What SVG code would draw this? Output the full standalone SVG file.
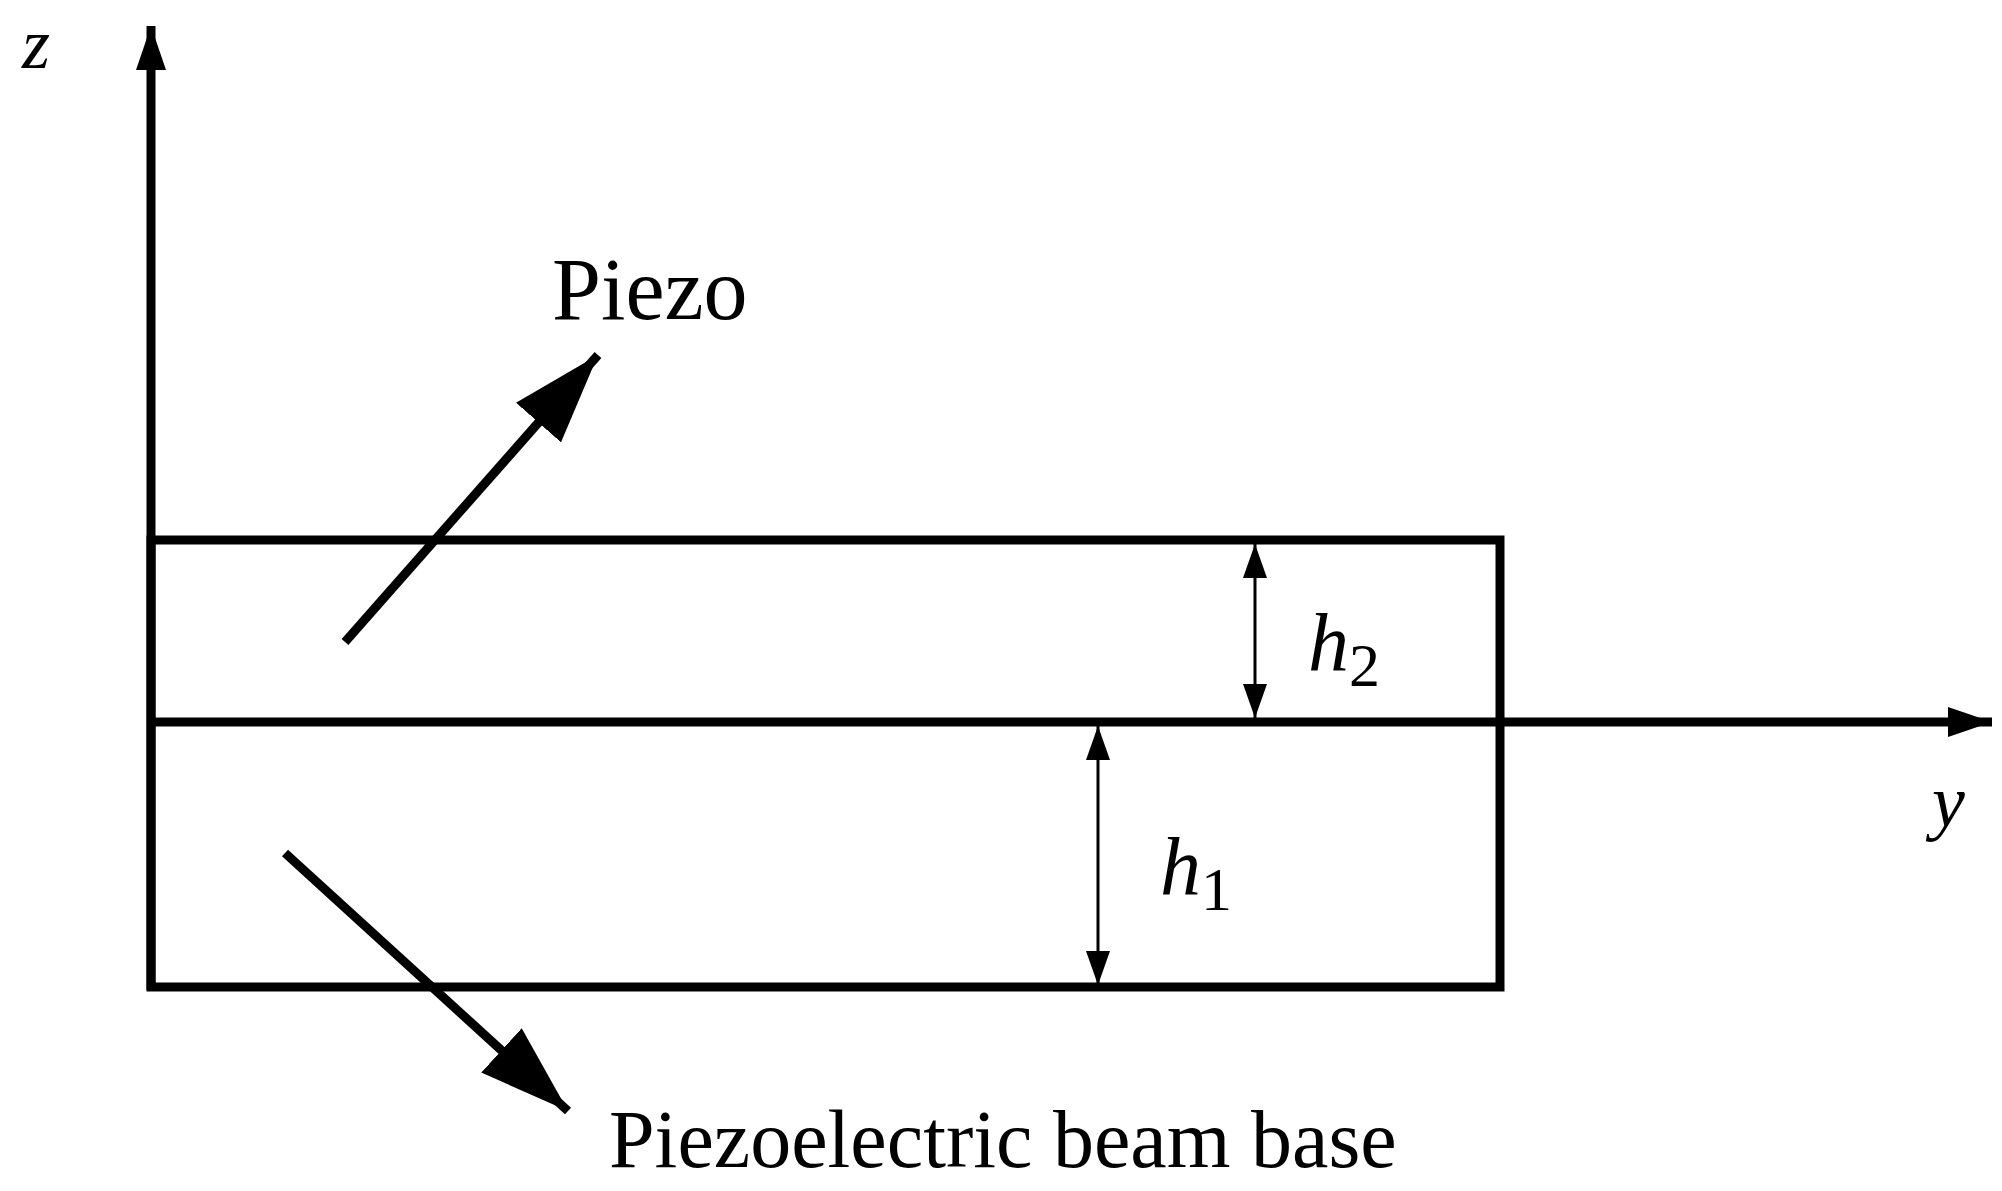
<svg xmlns="http://www.w3.org/2000/svg" width="2002" height="1191" viewBox="0 0 2002 1191">
<style>
.l{stroke:#000;stroke-width:9;fill:none}
.d{stroke:#000;stroke-width:3;fill:none}
text{font-family:"Liberation Serif",serif;fill:#000}
.i{font-style:italic}
</style>
<defs>
<marker id="big" markerUnits="userSpaceOnUse" markerWidth="90" markerHeight="60" refX="90" refY="30" orient="auto"><path d="M0,0 L90,30 L0,60 Z"/></marker>
<marker id="ax" markerUnits="userSpaceOnUse" markerWidth="44" markerHeight="30" refX="44" refY="15" orient="auto"><path d="M0,0 L44,15 L0,30 Z"/></marker>
<marker id="sm" markerUnits="userSpaceOnUse" markerWidth="34" markerHeight="24" refX="34" refY="12" orient="auto"><path d="M0,0 L34,12 L0,24 Z"/></marker>
</defs>
<rect width="2002" height="1191" fill="#fff"/>
<g id="beam">
<rect x="151" y="540" width="1349" height="447" class="l"/>
</g>
<g id="connectors">
<line x1="151" y1="990" x2="151" y2="26" class="l" marker-end="url(#ax)"/>
<line x1="151" y1="722" x2="1992" y2="722" class="l" marker-end="url(#ax)"/>
<line x1="345" y1="642" x2="598" y2="355" class="l" marker-end="url(#big)"/>
<line x1="285" y1="853" x2="568" y2="1111" class="l" marker-end="url(#big)"/>
<line x1="1255" y1="630" x2="1255" y2="544" class="d" marker-end="url(#sm)"/>
<line x1="1255" y1="630" x2="1255" y2="718" class="d" marker-end="url(#sm)"/>
<line x1="1098" y1="855" x2="1098" y2="726" class="d" marker-end="url(#sm)"/>
<line x1="1098" y1="855" x2="1098" y2="985" class="d" marker-end="url(#sm)"/>
</g>
<g id="labels">
<text x="22" y="68" font-size="72" class="i">z</text>
<text x="552" y="319" font-size="88">Piezo</text>
<text x="1932" y="826" font-size="74" class="i">y</text>
<text x="1308" y="670" font-size="82" class="i">h<tspan font-size="62" font-style="normal" dy="16">2</tspan></text>
<text x="1160" y="894" font-size="82" class="i">h<tspan font-size="62" font-style="normal" dy="16">1</tspan></text>
<text x="609" y="1167" font-size="82">Piezoelectric beam base</text>
</g>
</svg>
